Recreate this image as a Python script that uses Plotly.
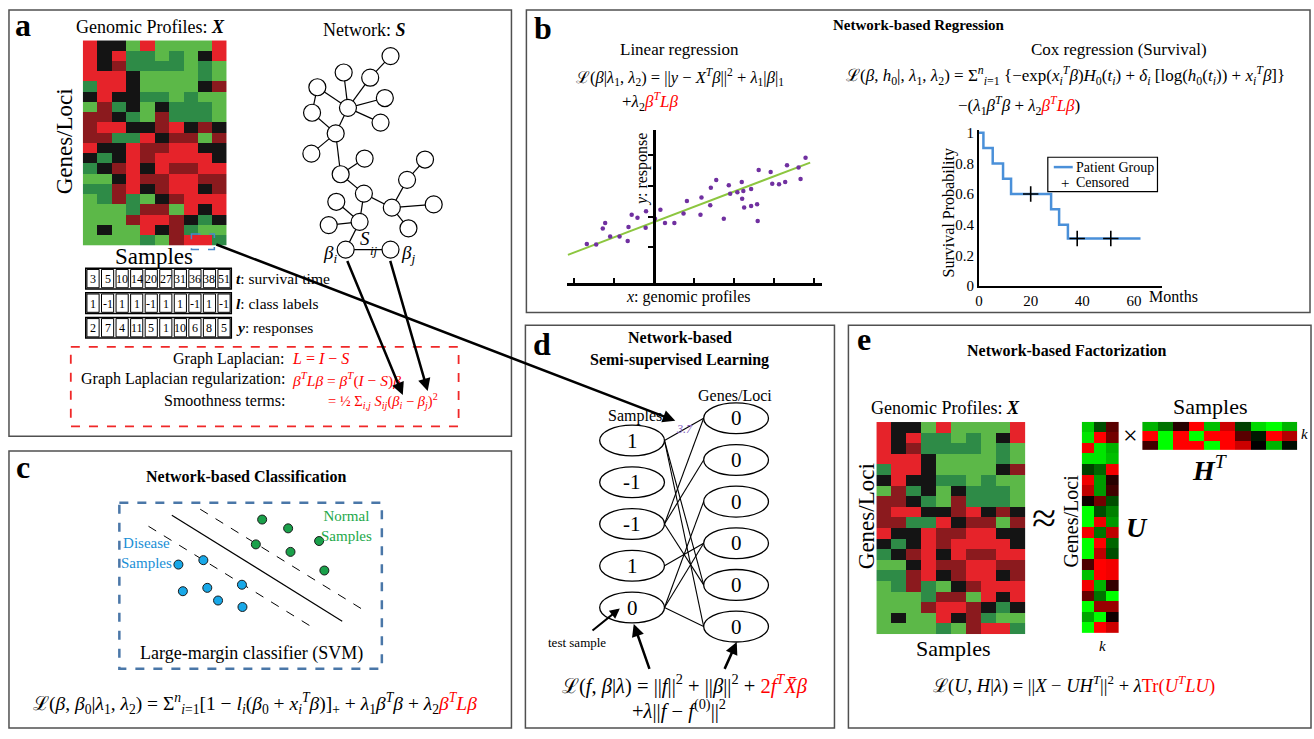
import plotly.graph_objects as go

W, H = 1314, 739
SERIF = "Liberation Serif"
RED = "#ff0000"

# ------------------------------------------------------------------ data
# genomic profile matrix X (20 genes x 10 samples); L light green, G dark green, K black, D dark red, R red
profile_rows = [
    "RKKLRLLLLR", "RKRGGLGLKR", "RKDGGGGLGL", "RRRKLLLLGL", "GRRKLLLLKD",
    "KRKKGGLGLL", "LDGKLKGGGL", "DDKGLDGGGL", "DRRKKDRKDK", "DDGGRKDDLD",
    "RKKRDDRRKK", "KGKRDRRRRK", "GKDRKRDDRR", "LLKRDDRRDD", "GGDRKDRRKD",
    "LGDGLKDRRR", "LLLGDDLRKR", "LLLDRRDKGK", "LKLLRKDGLL", "LLLLGLDRRG",
]
profile_codes = ["L", "G", "K", "D", "R"]
profile_colors = ["#5cb848", "#2e8b47", "#141414", "#8b1a1e", "#e6232a"]

survival_time = ["3", "5", "10", "14", "20", "27", "31", "36", "38", "51"]
class_labels = ["1", "-1", "1", "1", "-1", "1", "1", "-1", "1", "-1"]
responses = ["2", "7", "4", "11", "5", "1", "10", "6", "8", "5"]

reg_x = [-3.37, -2.9, -2.57, -2.45, -2.2, -1.73, -1.32, -1.28, -1.12, -0.83, -0.4, -0.42,
         0.05, 0.32, 0.55, 1.02, 1.48, 1.65, 2.33, 2.38, 2.82, 2.85, 3.12, 3.5, 3.75, 3.82,
         4.18, 4.4, 4.42, 4.48, 4.52, 4.87, 4.87, 5.17, 5.2, 5.25, 5.85, 5.93, 6.27, 6.58,
         6.67, 7.25, 7.35, 7.6]
reg_y = [1.10, 1.09, 1.61, 1.79, 1.35, 1.35, 1.20, 1.66, 2.06, 1.96, 2.17, 1.63,
         1.93, 2.22, 1.79, 1.79, 2.10, 2.51, 2.06, 2.62, 2.37, 2.94, 3.19, 1.93, 3.02, 2.74,
         2.79, 3.13, 2.58, 2.83, 2.29, 2.34, 2.90, 2.40, 1.85, 3.52, 3.45, 3.07, 3.05, 3.13,
         3.67, 3.60, 3.22, 3.92]
fit_x = [-4.32, 7.83]
fit_y = [0.75, 3.76]

km_months = [0, 1.7, 5.3, 9.3, 12.4, 27.9, 31.0, 34.4, 62.5]
km_surv = [1.0, 0.9, 0.8, 0.7, 0.6, 0.5, 0.4, 0.31, 0.31]
censor_months = [20, 38, 51]
censor_surv = [0.6, 0.31, 0.31]
surv_ticks = [0, 0.2, 0.4, 0.6, 0.8, 1]
surv_ticktext = ["0", "0.2", "0.4", "0.6", "0.8", "1"]
month_ticks = [0, 20, 40, 60]

disease_x = [2.25, 3.20, 4.67, 2.42, 3.35, 3.76, 4.69]
disease_y = [4.03, 4.20, 3.25, 3.00, 3.13, 2.64, 2.39]
normal_x = [5.44, 6.43, 7.61, 5.20, 6.52, 7.81]
normal_y = [5.77, 5.43, 4.94, 4.81, 4.52, 3.80]
hyper_x, hyper_y = [2.00, 8.49], [5.94, 1.84]
margin_up_x, margin_up_y = [3.08, 9.21], [6.17, 2.33]
margin_lo_x, margin_lo_y = [1.11, 7.25], [5.51, 1.67]

U_factor = [
    [-0.8, -0.3, 0.35], [-0.9, 1.0, 0.45], [0.95, -0.9, -0.7], [-0.9, -0.9, -0.75],
    [-0.25, -0.4, 0.95], [0.95, -0.6, 0.15], [0.75, -0.6, 0.25], [0.05, 0.45, -0.3],
    [-1.0, -0.3, -0.5], [-1.0, 0.95, -0.6], [0.95, -0.45, 0.75], [-1.0, 1.0, -0.4],
    [-1.0, 0.75, -0.3], [0.3, 1.0, 0.95], [-0.75, 1.0, 0.95], [0.95, -0.7, 0.2],
    [0.4, -0.45, -1.0], [-1.0, 0.6, 0.6], [-0.65, -1.0, 0.05], [-1.0, 1.0, 0.8],
]
H_factor = [
    [-0.7, -0.45, 0.15, 1.0, -0.75, 0.8, -0.25, -0.85, -1.0, -0.7],
    [1.0, -1.0, 1.0, -1.0, 1.0, 1.0, 0.35, -0.1, 1.0, 0.7],
    [0.25, -1.0, 1.0, 1.0, -1.0, 1.0, 0.8, 0.0, -0.7, -0.05],
]

# network S (node positions in the figure frame) and its edges
net_x = [387.7, 340.7, 367.3, 314.3, 382.0, 345.0, 309.0, 377.7, 332.7, 308.3, 361.7, 422.3,
         337.7, 404.3, 361.0, 333.3, 389.0, 431.0, 356.7, 325.7, 405.7, 342.7, 387.7]
net_y = [52.0, 68.7, 74.0, 83.7, 94.7, 104.7, 109.7, 119.7, 130.7, 151.3, 156.3, 157.3,
         172.3, 178.0, 192.0, 200.3, 206.3, 203.0, 220.7, 224.0, 227.3, 249.0, 249.0]
net_edges = [(0, 2), (1, 5), (2, 5), (3, 5), (4, 5), (5, 7), (3, 6), (5, 8), (6, 8), (8, 9),
             (8, 12), (12, 10), (12, 14), (14, 16), (16, 13), (13, 11), (16, 17), (16, 20),
             (14, 18), (18, 15), (18, 19), (18, 21), (21, 22)]

sample_labels = ["1", "-1", "-1", "1", "0"]
gene_labels = ["0", "0", "0", "0", "0", "0"]
bipartite_edges = [(0, 0), (0, 4), (0, 5), (2, 0), (2, 1), (2, 4), (3, 3), (4, 2), (4, 3), (4, 5)]


# ------------------------------------------------------------------ helpers
def dom_x(x0, x1):
    return [x0 / W, x1 / W]


def dom_y(top, bottom):
    return [1 - bottom / H, 1 - top / H]


anns, shapes = [], []


def txt(x, y, s, size=15, color="black", xa="center", ya="middle", angle=0, family=SERIF):
    anns.append(dict(x=x, y=y, xref="x", yref="y", text=s, showarrow=False,
                     font=dict(size=size, color=color, family=family),
                     xanchor=xa, yanchor=ya, textangle=angle))


def rect(x0, y0, x1, y1, color="black", width=1.0, dash="solid", fill="rgba(0,0,0,0)", layer="above"):
    shapes.append(dict(type="rect", xref="x", yref="y", x0=x0, y0=y0, x1=x1, y1=y1,
                       line=dict(color=color, width=width, dash=dash), fillcolor=fill, layer=layer))


def arrow(x0, y0, x1, y1, width=2.5, head=1.0):
    anns.append(dict(x=x1, y=y1, ax=x0, ay=y0, xref="x", yref="y", axref="x", ayref="y",
                     text=" ", font=dict(size=2), showarrow=True, arrowhead=2, arrowsize=head,
                     arrowwidth=width, arrowcolor="black"))


fig = go.Figure()

# ------------------------------------------------------------------ panel boxes
BOX = "#505050"
rect(5, 5, 509, 439, BOX, 1.5)
rect(5, 454, 509, 736, BOX, 1.5)
rect(524, 5, 1310, 313, BOX, 1.5)
rect(523, 326, 833, 736, BOX, 1.5)
rect(847, 326, 1311, 736, BOX, 1.5)

# ------------------------------------------------------------------ heatmaps of X
n = len(profile_codes)
cs = []
for i, c in enumerate(profile_colors):
    cs.append([i / n, c])
    cs.append([(i + 1) / n, c])
zX = [[profile_codes.index(ch) for ch in row] for row in profile_rows]
for ax in ("2", "6"):
    fig.add_trace(go.Heatmap(z=zX, colorscale=cs, zmin=-0.5, zmax=n - 0.5, showscale=False,
                             hoverinfo="skip", xaxis="x" + ax, yaxis="y" + ax))

rg = [[0, "#00ff00"], [0.5, "#000000"], [1, "#ff0000"]]
fig.add_trace(go.Heatmap(z=U_factor, colorscale=rg, zmin=-1, zmax=1, showscale=False,
                         hoverinfo="skip", xaxis="x7", yaxis="y7"))
fig.add_trace(go.Heatmap(z=H_factor, colorscale=rg, zmin=-1, zmax=1, showscale=False,
                         hoverinfo="skip", xaxis="x8", yaxis="y8"))

# ------------------------------------------------------------------ network S
ex, ey = [], []
for a, b in net_edges:
    ex += [net_x[a], net_x[b], None]
    ey += [net_y[a], net_y[b], None]
fig.add_trace(go.Scatter(x=ex, y=ey, mode="lines", line=dict(color="black", width=1.2),
                         hoverinfo="skip", showlegend=False))
fig.add_trace(go.Scatter(x=net_x, y=net_y, mode="markers",
                         marker=dict(size=17, color="white", line=dict(color="black", width=1.2)),
                         hoverinfo="skip", showlegend=False))

# ------------------------------------------------------------------ linear regression
fig.add_trace(go.Scatter(x=fit_x, y=fit_y, mode="lines", line=dict(color="#8cc63f", width=2),
                         xaxis="x3", yaxis="y3", showlegend=False, hoverinfo="skip"))
fig.add_trace(go.Scatter(x=reg_x, y=reg_y, mode="markers", marker=dict(size=4.5, color="#7030a0"),
                         xaxis="x3", yaxis="y3", showlegend=False, hoverinfo="skip"))

# ------------------------------------------------------------------ survival
fig.add_trace(go.Scatter(x=km_months, y=km_surv, mode="lines", line=dict(color="#4a90d9", width=2.5, shape="hv"),
                         xaxis="x4", yaxis="y4", showlegend=False, hoverinfo="skip"))
fig.add_trace(go.Scatter(x=censor_months, y=censor_surv, mode="markers", cliponaxis=False,
                         marker=dict(symbol="cross-thin", size=11, line=dict(color="black", width=1.6)),
                         xaxis="x4", yaxis="y4", showlegend=False, hoverinfo="skip"))

# ------------------------------------------------------------------ SVM
for lx, ly, dash, wd in ((hyper_x, hyper_y, "solid", 1.2), (margin_up_x, margin_up_y, "dash", 1.0),
                         (margin_lo_x, margin_lo_y, "dash", 1.0)):
    fig.add_trace(go.Scatter(x=lx, y=ly, mode="lines", line=dict(color="black", width=wd, dash=dash),
                             xaxis="x5", yaxis="y5", showlegend=False, hoverinfo="skip"))
fig.add_trace(go.Scatter(x=disease_x, y=disease_y, mode="markers",
                         marker=dict(size=9, color="#18a8e8", line=dict(color="#1a1a1a", width=1)),
                         xaxis="x5", yaxis="y5", showlegend=False, hoverinfo="skip"))
fig.add_trace(go.Scatter(x=normal_x, y=normal_y, mode="markers",
                         marker=dict(size=9, color="#1aa04a", line=dict(color="#1a1a1a", width=1)),
                         xaxis="x5", yaxis="y5", showlegend=False, hoverinfo="skip"))

# ------------------------------------------------------------------ bipartite graph (panel d)
S_CX, G_CX, RX, RY = 630.0, 734.3, 32.5, 15.7
S_Y0, G_Y0, S_STEP, G_STEP = 443.3, 420.7, 42.5, 42.4
bx, by = [], []
for s, g in bipartite_edges:
    bx += [S_CX + RX, G_CX - RX, None]
    by += [S_Y0 + s * S_STEP, G_Y0 + g * G_STEP, None]
fig.add_trace(go.Scatter(x=bx, y=by, mode="lines", line=dict(color="black", width=1.1),
                         hoverinfo="skip", showlegend=False))
for i, lab in enumerate(sample_labels):
    cy = S_Y0 + i * S_STEP
    shapes.append(dict(type="circle", xref="x", yref="y", x0=S_CX - RX, x1=S_CX + RX, y0=cy - RY, y1=cy + RY,
                       line=dict(color="black", width=1.3)))
    txt(S_CX, cy, lab, size=21)
for i, lab in enumerate(gene_labels):
    cy = G_Y0 + i * G_STEP
    shapes.append(dict(type="circle", xref="x", yref="y", x0=G_CX - RX, x1=G_CX + RX, y0=cy - RY, y1=cy + RY,
                       line=dict(color="black", width=1.3)))
    txt(G_CX, cy, lab, size=21)

# ------------------------------------------------------------------ panel a text / tables
txt(19, 20, "<b>a</b>", size=32)
txt(147, 22, "Genomic Profiles: <b><i>X</i></b>", size=18)
txt(362, 25, "Network: <b><i>S</i></b>", size=18)
txt(61, 139, "Genes/Loci", size=23, angle=-90)
txt(150, 256, "Samples", size=23)
rect(188, 233, 211, 249, "#4a86c8", 1.5, "dash")
txt(362, 238, "<i>S</i>", size=19)
txt(371, 250, "<i>ij</i>", size=13)
txt(327, 253, "<i>β</i><sub><i>i</i></sub>", size=19)
txt(405, 253, "<i>β</i><sub><i>j</i></sub>", size=19)

TX0, TCW = 82.0, 14.6
for vals, (y0, y1), label in ((survival_time, (268, 289), "<b><i>t</i></b>: survival time"),
                              (class_labels, (293, 314), "<b><i>l</i></b>: class labels"),
                              (responses, (318, 339), "<b><i>y</i></b>: responses")):
    rect(TX0, y0, TX0 + TCW * len(vals), y1, "black", 1.5)
    for i, v in enumerate(vals):
        rect(TX0 + i * TCW + 1.2, y0 + 1.2, TX0 + (i + 1) * TCW - 1.2, y1 - 1.2, "black", 1.0)
        txt(TX0 + (i + 0.5) * TCW, (y0 + y1) / 2 + 0.5, v, size=12)
    txt(TX0 + TCW * len(vals) + 3, (y0 + y1) / 2, label, size=15.5, xa="left")

rect(67, 348, 456, 429, "#f02828", 1.8, "dash")
txt(284, 360, "Graph Laplacian:", size=16, xa="right")
txt(287, 360, "<i>L</i> = <i>I</i> − <i>S</i>", size=16, color=RED, xa="left")
txt(284, 381, "Graph Laplacian regularization:", size=16, xa="right")
txt(287, 381, "<i>β</i><sup><i>T</i></sup><i>Lβ</i> = <i>β</i><sup><i>T</i></sup>(<i>I</i> − <i>S</i>)<i>β</i>",
    size=15.5, color=RED, xa="left")
txt(284, 403, "Smoothness terms:", size=16, xa="right")
txt(323, 403, "= ½ Σ<sub><i>i,j</i></sub> <i>S</i><sub><i>ij</i></sub>(<i>β</i><sub><i>i</i></sub> − <i>β</i><sub><i>j</i></sub>)<sup>2</sup>",
    size=14.5, color=RED, xa="left")

arrow(343.3, 258, 400, 397)
arrow(386.7, 258, 425, 393)
arrow(211, 243, 673.3, 423.3)

# ------------------------------------------------------------------ panel b text
txt(541, 23, "<b>b</b>", size=32)
txt(918, 20, "<b>Network-based Regression</b>", size=15)
txt(678, 45, "Linear regression", size=17)
txt(678, 73, "ℒ(<i>β</i>|<i>λ</i><sub>1</sub>, <i>λ</i><sub>2</sub>) = ||<i>y</i> − <i>X</i><sup><i>T</i></sup><i>β</i>||<sup>2</sup>"
             " + <i>λ</i><sub>1</sub>|<i>β</i>|<sub>1</sub>", size=16.5)
txt(648, 98, "+<i>λ</i><sub>2</sub><span style='color:#ff0000'><i>β</i><sup><i>T</i></sup><i>Lβ</i></span>", size=17)
txt(1118, 45, "Cox regression (Survival)", size=17)
txt(1065, 72, "ℒ(<i>β</i>, <i>h</i><sub>0</sub>|, <i>λ</i><sub>1</sub>, <i>λ</i><sub>2</sub>) = Σ<sup><i>n</i></sup><sub><i>i</i>=1</sub>"
              " {−exp(<i>x</i><sub><i>i</i></sub><sup><i>T</i></sup><i>β</i>)<i>H</i><sub>0</sub>(<i>t</i><sub><i>i</i></sub>)"
              " + <i>δ</i><sub><i>i</i></sub> [log(<i>h</i><sub>0</sub>(<i>t</i><sub><i>i</i></sub>)) + <i>x</i><sub><i>i</i></sub><sup><i>T</i></sup><i>β</i>]}",
    size=17)
txt(1018, 102, "−(<i>λ</i><sub>1</sub><i>β</i><sup><i>T</i></sup><i>β</i> + <i>λ</i><sub>2</sub>"
               "<span style='color:#ff0000'><i>β</i><sup><i>T</i></sup><i>Lβ</i></span>)", size=17)
txt(640, 167, "<i>y</i>: response", size=16, angle=-90)
txt(687, 297, "<i>x</i>: genomic profiles", size=16)
txt(948, 212, "Survival Probability", size=16, angle=-90)
txt(1173, 297, "Months", size=16)
rect(1047, 155, 1157, 190, "black", 1.2)
shapes.append(dict(type="line", xref="x", yref="y", x0=1053, x1=1072, y0=165, y1=165,
                   line=dict(color="#4a90d9", width=2.5)))
txt(1073, 165, "Patient Group", size=14, xa="left")
txt(1064, 181, "+", size=15)
txt(1073, 181, "Censored", size=14, xa="left")

# ------------------------------------------------------------------ panel c text
txt(19, 470, "<b>c</b>", size=32)
txt(243, 480, "<b>Network-based Classification</b>", size=16)
rect(115.7, 506.7, 379, 675.7, "#4a77a8", 2.5, "dash")
txt(143, 558, "Disease<br>Samples", size=15, color="#1a8fd6")
txt(344, 530, "Normal<br>Samples", size=15, color="#22a84a")
txt(248, 660, "Large-margin classifier (SVM)", size=18)
txt(252, 711, "ℒ(<i>β</i>, <i>β</i><sub>0</sub>|<i>λ</i><sub>1</sub>, <i>λ</i><sub>2</sub>) = Σ<sup><i>n</i></sup><sub><i>i</i>=1</sub>"
             "[1 − <i>l</i><sub><i>i</i></sub>(<i>β</i><sub>0</sub> + <i>x</i><sub><i>i</i></sub><sup><i>T</i></sup><i>β</i>)]<sub>+</sub>"
             " + <i>λ</i><sub>1</sub><i>β</i><sup><i>T</i></sup><i>β</i> + <i>λ</i><sub>2</sub>"
             "<span style='color:#ff0000'><i>β</i><sup><i>T</i></sup><i>Lβ</i></span>", size=19.5)

# ------------------------------------------------------------------ panel d text
txt(540, 345, "<b>d</b>", size=32)
txt(678, 338, "<b>Network-based</b>", size=16)
txt(678, 361, "<b>Semi-supervised Learning</b>", size=16)
txt(633, 418, "Samples", size=16)
txt(733, 397, "Genes/Loci", size=16)
txt(683, 432, "<i>3.7</i>", size=12, color="#8060c0")
txt(575, 649, "test sample", size=13)
arrow(588.3, 638.3, 617.7, 614.3, width=2)
arrow(648.3, 678.3, 631.7, 630)
arrow(721.7, 678.3, 735, 648.3)
txt(683, 692, "ℒ(<i>f</i>, <i>β</i>|<i>λ</i>) = ||<i>f</i>||<sup>2</sup> + ||<i>β</i>||<sup>2</sup> + "
             "<span style='color:#ff0000'>2<i>f</i><sup><i>T</i></sup><i>X̄β</i></span>", size=20.5)
txt(677, 717, "+<i>λ</i>||<i>f</i> − <i>f</i><sup>(0)</sup>||<sup>2</sup>", size=20.5)

# ------------------------------------------------------------------ panel e text
txt(863, 340, "<b>e</b>", size=32)
txt(1066, 352, "<b>Network-based Factorization</b>", size=16)
txt(944, 410, "Genomic Profiles: <b><i>X</i></b>", size=18)
txt(865, 520, "Genes/Loci", size=23, angle=-90)
txt(952, 655, "Samples", size=22)
txt(1043, 523, "≈", size=44)
txt(1070, 525, "Genes/Loci", size=20, angle=-90)
txt(1102, 652, "<i>k</i>", size=15)
txt(1136, 532, "<b><i>U</i></b>", size=28)
txt(1130, 438, "×", size=26)
txt(1210, 409, "Samples", size=22)
txt(1304, 437, "<i>k</i>", size=15)
txt(1210, 472, "<b><i>H</i></b><sup><i>T</i></sup>", size=28)
txt(1073, 692, "ℒ(<i>U</i>, <i>H</i>|<i>λ</i>) = ||<i>X</i> − <i>UH</i><sup><i>T</i></sup>||<sup>2</sup> + <i>λ</i>"
               "<span style='color:#ff0000'>Tr(<i>U</i><sup><i>T</i></sup><i>LU</i>)</span>", size=18.5)

# ------------------------------------------------------------------ layout
hidden = dict(visible=False, showgrid=False, zeroline=False, fixedrange=True)
lay = dict(
    width=W, height=H, margin=dict(l=0, r=0, t=0, b=0),
    paper_bgcolor="white", plot_bgcolor="rgba(0,0,0,0)",
    font=dict(family=SERIF, color="black", size=14), showlegend=False,
    annotations=anns, shapes=shapes,
    xaxis=dict(domain=[0, 1], range=[0, W], anchor="y", **hidden),
    yaxis=dict(domain=[0, 1], range=[H, 0], anchor="x", **hidden),
    xaxis2=dict(domain=dom_x(79, 223.3), range=[-0.5, 9.5], anchor="y2", **hidden),
    yaxis2=dict(domain=dom_y(36, 245), range=[19.5, -0.5], anchor="x2", **hidden),
    xaxis3=dict(domain=dom_x(565, 820), range=[-4.35, 8.4], anchor="y3", showline=True, linecolor="black",
                linewidth=2.5, ticks="inside", ticklen=5, tickwidth=2, tickcolor="black",
                tickvals=[-4, -2, 0, 2, 4, 6, 8], showticklabels=False, showgrid=False, zeroline=False),
    yaxis3=dict(domain=dom_y(127, 283), range=[-0.17, 4.83], anchor="free", position=652 / W,
                showline=True, linecolor="black", linewidth=2.5, ticks="outside", ticklen=5, tickwidth=2,
                tickcolor="black", tickvals=[1, 2, 3, 4], showticklabels=False, showgrid=False, zeroline=False),
    xaxis4=dict(domain=dom_x(978, 1162), range=[0, 71], anchor="y4", showline=True, linecolor="black",
                linewidth=2, ticks="", tickvals=month_ticks, tickfont=dict(size=15), showgrid=False, zeroline=False),
    yaxis4=dict(domain=dom_y(126.9, 286), range=[0, 1.02], anchor="x4", showline=True, linecolor="black",
                linewidth=2, ticks="", tickvals=surv_ticks, ticktext=surv_ticktext, tickfont=dict(size=15),
                showgrid=False, zeroline=False),
    xaxis5=dict(domain=dom_x(115.7, 379), range=[0, 10], anchor="y5", **hidden),
    yaxis5=dict(domain=dom_y(506.7, 675.7), range=[0, 6.418], anchor="x5", **hidden),
    xaxis6=dict(domain=dom_x(875, 1024.5), range=[-0.5, 9.5], anchor="y6", **hidden),
    yaxis6=dict(domain=dom_y(424.5, 640.7), range=[19.5, -0.5], anchor="x6", **hidden),
    xaxis7=dict(domain=dom_x(1081, 1118.3), range=[-0.5, 2.5], anchor="y7", **hidden),
    yaxis7=dict(domain=dom_y(424.3, 639.3), range=[19.5, -0.5], anchor="x7", **hidden),
    xaxis8=dict(domain=dom_x(1141.7, 1297.3), range=[-0.5, 9.5], anchor="y8", **hidden),
    yaxis8=dict(domain=dom_y(424.3, 453.3), range=[2.5, -0.5], anchor="x8", **hidden),
)
fig.update_layout(**lay)

fig.write_html("out.html", config={"displayModeBar": False},
               post_script="document.body.style.margin='0';document.body.style.overflow='hidden';")
